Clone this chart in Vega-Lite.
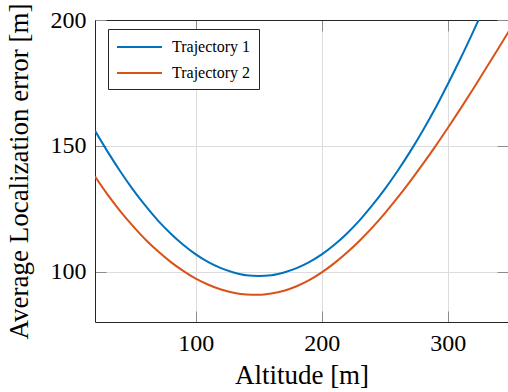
{
  "$schema": "https://vega.github.io/schema/vega-lite/v6.json",
  "width": 413,
  "height": 302,
  "autosize": {"type": "none"},
  "padding": {"left": 95, "top": 20, "right": 0, "bottom": 70},
  "background": "white",
  "config": {"view": {"stroke": null}, "font": "Liberation Serif"},
  "data": {"values": [
    {"altitude": 20, "error": 156.0, "series": "Trajectory 1"},
    {"altitude": 30, "error": 147.7, "series": "Trajectory 1"},
    {"altitude": 40, "error": 139.9, "series": "Trajectory 1"},
    {"altitude": 50, "error": 132.7, "series": "Trajectory 1"},
    {"altitude": 60, "error": 126.2, "series": "Trajectory 1"},
    {"altitude": 70, "error": 120.3, "series": "Trajectory 1"},
    {"altitude": 80, "error": 115.2, "series": "Trajectory 1"},
    {"altitude": 90, "error": 110.7, "series": "Trajectory 1"},
    {"altitude": 100, "error": 106.9, "series": "Trajectory 1"},
    {"altitude": 110, "error": 103.8, "series": "Trajectory 1"},
    {"altitude": 120, "error": 101.4, "series": "Trajectory 1"},
    {"altitude": 130, "error": 99.7, "series": "Trajectory 1"},
    {"altitude": 140, "error": 98.6, "series": "Trajectory 1"},
    {"altitude": 150, "error": 98.3, "series": "Trajectory 1"},
    {"altitude": 160, "error": 98.6, "series": "Trajectory 1"},
    {"altitude": 170, "error": 99.7, "series": "Trajectory 1"},
    {"altitude": 180, "error": 101.4, "series": "Trajectory 1"},
    {"altitude": 190, "error": 103.8, "series": "Trajectory 1"},
    {"altitude": 200, "error": 106.9, "series": "Trajectory 1"},
    {"altitude": 210, "error": 110.7, "series": "Trajectory 1"},
    {"altitude": 220, "error": 115.2, "series": "Trajectory 1"},
    {"altitude": 230, "error": 120.4, "series": "Trajectory 1"},
    {"altitude": 240, "error": 126.3, "series": "Trajectory 1"},
    {"altitude": 250, "error": 132.8, "series": "Trajectory 1"},
    {"altitude": 260, "error": 139.9, "series": "Trajectory 1"},
    {"altitude": 270, "error": 147.6, "series": "Trajectory 1"},
    {"altitude": 280, "error": 155.9, "series": "Trajectory 1"},
    {"altitude": 290, "error": 164.8, "series": "Trajectory 1"},
    {"altitude": 300, "error": 174.5, "series": "Trajectory 1"},
    {"altitude": 310, "error": 184.6, "series": "Trajectory 1"},
    {"altitude": 320, "error": 195.2, "series": "Trajectory 1"},
    {"altitude": 330, "error": 206.2, "series": "Trajectory 1"},
    {"altitude": 20, "error": 137.8, "series": "Trajectory 2"},
    {"altitude": 30, "error": 130.6, "series": "Trajectory 2"},
    {"altitude": 40, "error": 124.1, "series": "Trajectory 2"},
    {"altitude": 50, "error": 118.2, "series": "Trajectory 2"},
    {"altitude": 60, "error": 112.8, "series": "Trajectory 2"},
    {"altitude": 70, "error": 108.1, "series": "Trajectory 2"},
    {"altitude": 80, "error": 103.9, "series": "Trajectory 2"},
    {"altitude": 90, "error": 100.3, "series": "Trajectory 2"},
    {"altitude": 100, "error": 97.2, "series": "Trajectory 2"},
    {"altitude": 110, "error": 94.8, "series": "Trajectory 2"},
    {"altitude": 120, "error": 92.9, "series": "Trajectory 2"},
    {"altitude": 130, "error": 91.6, "series": "Trajectory 2"},
    {"altitude": 140, "error": 90.9, "series": "Trajectory 2"},
    {"altitude": 150, "error": 90.8, "series": "Trajectory 2"},
    {"altitude": 160, "error": 91.3, "series": "Trajectory 2"},
    {"altitude": 170, "error": 92.4, "series": "Trajectory 2"},
    {"altitude": 180, "error": 94.2, "series": "Trajectory 2"},
    {"altitude": 190, "error": 96.6, "series": "Trajectory 2"},
    {"altitude": 200, "error": 99.7, "series": "Trajectory 2"},
    {"altitude": 210, "error": 103.4, "series": "Trajectory 2"},
    {"altitude": 220, "error": 107.6, "series": "Trajectory 2"},
    {"altitude": 230, "error": 112.3, "series": "Trajectory 2"},
    {"altitude": 240, "error": 117.5, "series": "Trajectory 2"},
    {"altitude": 250, "error": 123.2, "series": "Trajectory 2"},
    {"altitude": 260, "error": 129.3, "series": "Trajectory 2"},
    {"altitude": 270, "error": 135.8, "series": "Trajectory 2"},
    {"altitude": 280, "error": 142.6, "series": "Trajectory 2"},
    {"altitude": 290, "error": 149.7, "series": "Trajectory 2"},
    {"altitude": 300, "error": 157.1, "series": "Trajectory 2"},
    {"altitude": 310, "error": 164.7, "series": "Trajectory 2"},
    {"altitude": 320, "error": 172.5, "series": "Trajectory 2"},
    {"altitude": 330, "error": 180.5, "series": "Trajectory 2"},
    {"altitude": 340, "error": 188.6, "series": "Trajectory 2"},
    {"altitude": 350, "error": 196.8, "series": "Trajectory 2"}
  ]},
  "layer": [
    {
      "mark": {"type": "line", "strokeWidth": 2, "clip": true, "interpolate": "monotone"},
      "encoding": {
        "x": {
          "field": "altitude", "type": "quantitative",
          "scale": {"domain": [20, 347.8], "nice": false, "zero": false},
          "axis": {
            "orient": "bottom", "values": [100, 200, 300], "title": "Altitude [m]",
            "grid": true, "gridColor": "#dcdcdc", "gridWidth": 1,
            "domainColor": "#262626", "domainWidth": 1,
            "tickColor": "#8c8c8c", "tickSize": -11, "tickWidth": 1,
            "labelFont": "Liberation Serif", "labelFontSize": 24, "labelColor": "#000000", "labelPadding": 20,
            "titleFont": "Liberation Serif", "titleFontSize": 27, "titleFontWeight": "normal", "titleColor": "#000000", "titlePadding": 7
          }
        },
        "y": {
          "field": "error", "type": "quantitative",
          "scale": {"domain": [80, 200], "nice": false, "zero": false},
          "axis": {
            "orient": "left", "values": [100, 150, 200], "title": "Average Localization error [m]",
            "grid": true, "gridColor": "#dcdcdc", "gridWidth": 1,
            "domainColor": "#262626", "domainWidth": 1,
            "tickColor": "#8c8c8c", "tickSize": -11, "tickWidth": 1,
            "labelFont": "Liberation Serif", "labelFontSize": 24, "labelColor": "#000000", "labelPadding": 20,
            "titleFont": "Liberation Serif", "titleFontSize": 27, "titleFontWeight": "normal", "titleColor": "#000000", "titlePadding": 17
          }
        },
        "color": {
          "field": "series", "type": "nominal",
          "scale": {"domain": ["Trajectory 1", "Trajectory 2"], "range": ["#0072BD", "#D95319"]},
          "legend": {
            "orient": "none", "legendX": 13, "legendY": 9, "title": null,
            "symbolType": "M-1,0L4,0", "symbolSize": 324, "symbolStrokeWidth": 2,
            "labelFont": "Liberation Serif", "labelFontSize": 16, "labelColor": "#000000", "labelOffset": 36,
            "strokeColor": "#262626", "fillColor": "white", "padding": 8, "rowPadding": 8, "cornerRadius": 0
          }
        }
      }
    },
    {
      "mark": {"type": "line", "opacity": 0, "clip": true},
      "encoding": {
        "x": {
          "field": "altitude", "type": "quantitative",
          "axis": {"orient": "top", "values": [100, 200, 300], "labels": false, "title": null, "grid": false,
                   "domainColor": "#262626", "domainWidth": 1, "tickColor": "#8c8c8c", "tickSize": -11, "tickWidth": 1}
        },
        "y": {
          "field": "error", "type": "quantitative",
          "axis": {"orient": "right", "values": [100, 150, 200], "labels": false, "title": null, "grid": false,
                   "domainColor": "#262626", "domainWidth": 1, "tickColor": "#8c8c8c", "tickSize": -11, "tickWidth": 1}
        },
        "detail": {"field": "series", "type": "nominal"}
      }
    }
  ],
  "resolve": {"axis": {"x": "independent", "y": "independent"}}
}
